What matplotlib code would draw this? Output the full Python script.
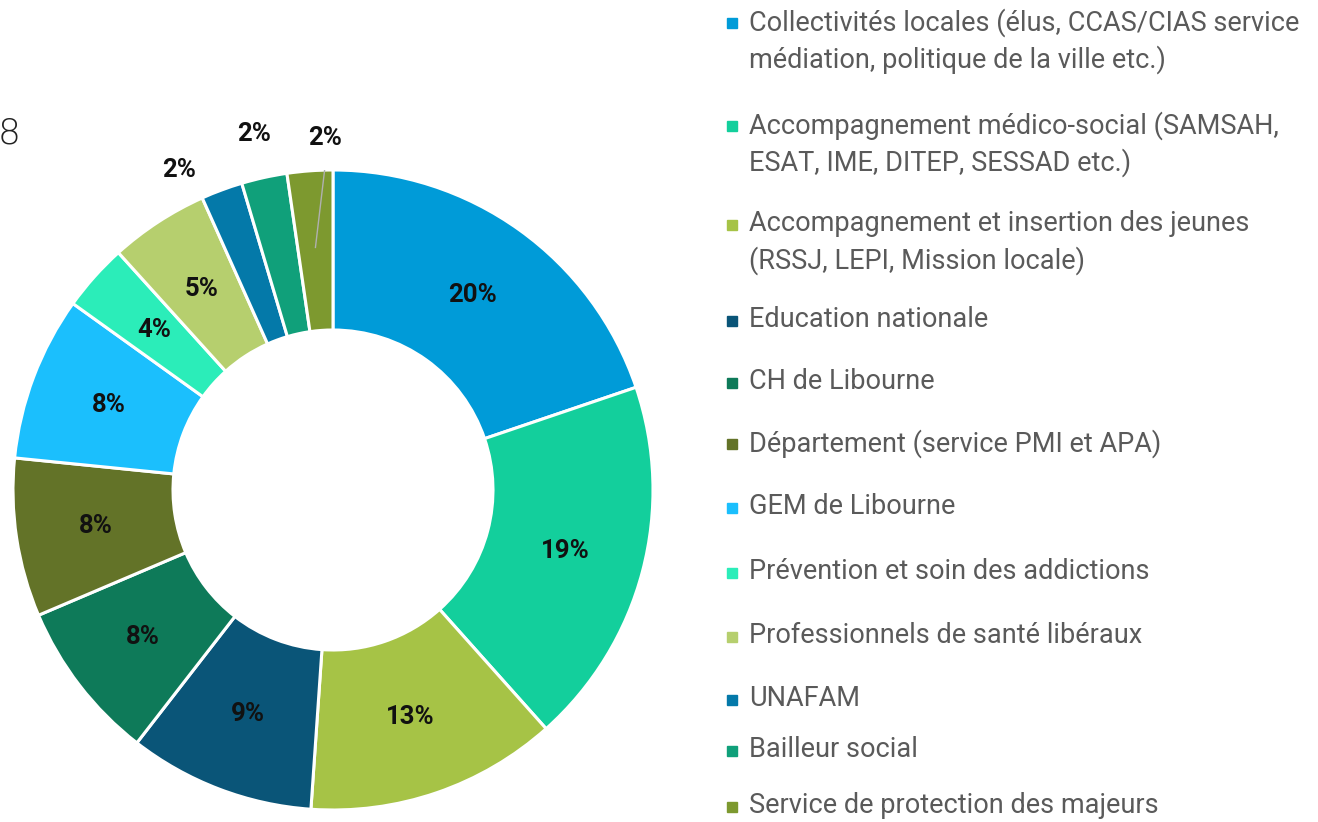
import numpy as np
import matplotlib
matplotlib.use('Agg')
import matplotlib.pyplot as plt

categories = [
    'Collectivités locales (élus, CCAS/CIAS service\nmédiation, politique de la ville etc.)',
    'Accompagnement médico-social (SAMSAH,\nESAT, IME, DITEP, SESSAD etc.)',
    'Accompagnement et insertion des jeunes\n(RSSJ, LEPI, Mission locale)',
    'Education nationale',
    'CH de Libourne',
    'Département (service PMI et APA)',
    'GEM de Libourne',
    'Prévention et soin des addictions',
    'Professionnels de santé libéraux',
    'UNAFAM',
    'Bailleur social',
    'Service de protection des majeurs',
]
values = [19.8, 18.6, 12.7, 9.4, 8.1, 8.0, 8.3, 3.4, 5.0, 2.1, 2.3, 2.3]
value_labels = ['20%', '19%', '13%', '9%', '8%', '8%', '8%', '4%', '5%', '2%', '2%', '2%']
colors = ['#009BD8', '#13CF9C', '#A6C346', '#0A5578', '#0E7A59', '#637328',
          '#1BBFFD', '#2BEDB9', '#B6CF6E', '#0479A9', '#10A07A', '#7D992F']

font = 'Roboto'
W, H = 1318, 822
fig = plt.figure(figsize=(W / 100, H / 100), dpi=100)

# donut: centre (333, 490) px, radius 320 px
cx, cy, r = 333, 490, 320
ax = fig.add_axes([(cx - r) / W, (H - cy - r) / H, 2 * r / W, 2 * r / H])
wedges, _ = ax.pie(values, colors=colors, startangle=90, counterclock=False,
                   radius=1, wedgeprops=dict(width=0.5, edgecolor='white', linewidth=2.2))
ax.set_xlim(-1, 1)
ax.set_ylim(-1, 1)
ax.axis('off')

# outside labels for the small slices (angle shift in degrees, radius)
outside = {9: (5.3, 1.11), 10: (0, 1.14), 11: (-2.8, 1.10)}
for i, w in enumerate(wedges):
    mid = np.deg2rad((w.theta1 + w.theta2) / 2)
    rr, a = 0.75, mid
    if i in outside:
        shift, rr = outside[i]
        a = mid + np.deg2rad(shift)
        if i == 11:
            ax.plot([0.76 * np.cos(mid), 1.02 * np.cos(a)], [0.76 * np.sin(mid), 1.02 * np.sin(a)],
                    color='#b0b0b0', lw=1)
    ax.text(rr * np.cos(a), rr * np.sin(a), value_labels[i], ha='center', va='center',
            fontsize=18.5, fontweight='bold', family=font, color='#111111')

# cropped title fragment
fig.text(-2 / W, 1 - 133 / H, '8', fontsize=26, color='#222222', fontweight='light',
         ha='left', va='center')

# legend
leg_y = [22, 125, 224, 320, 382, 443, 507, 572, 636, 699, 750, 806]
for y, c, lab in zip(leg_y, colors, categories):
    fig.patches.append(plt.Rectangle((727 / W, 1 - (y + 6) / H), 10 / W, 10 / H,
                                     transform=fig.transFigure, color=c))
    fig.text(749 / W, 1 - (y - 14) / H, lab, fontsize=19.5, family=font,
             color='#5a5a5a', ha='left', va='top', linespacing=1.4)

fig.savefig('out.png', dpi=100)
